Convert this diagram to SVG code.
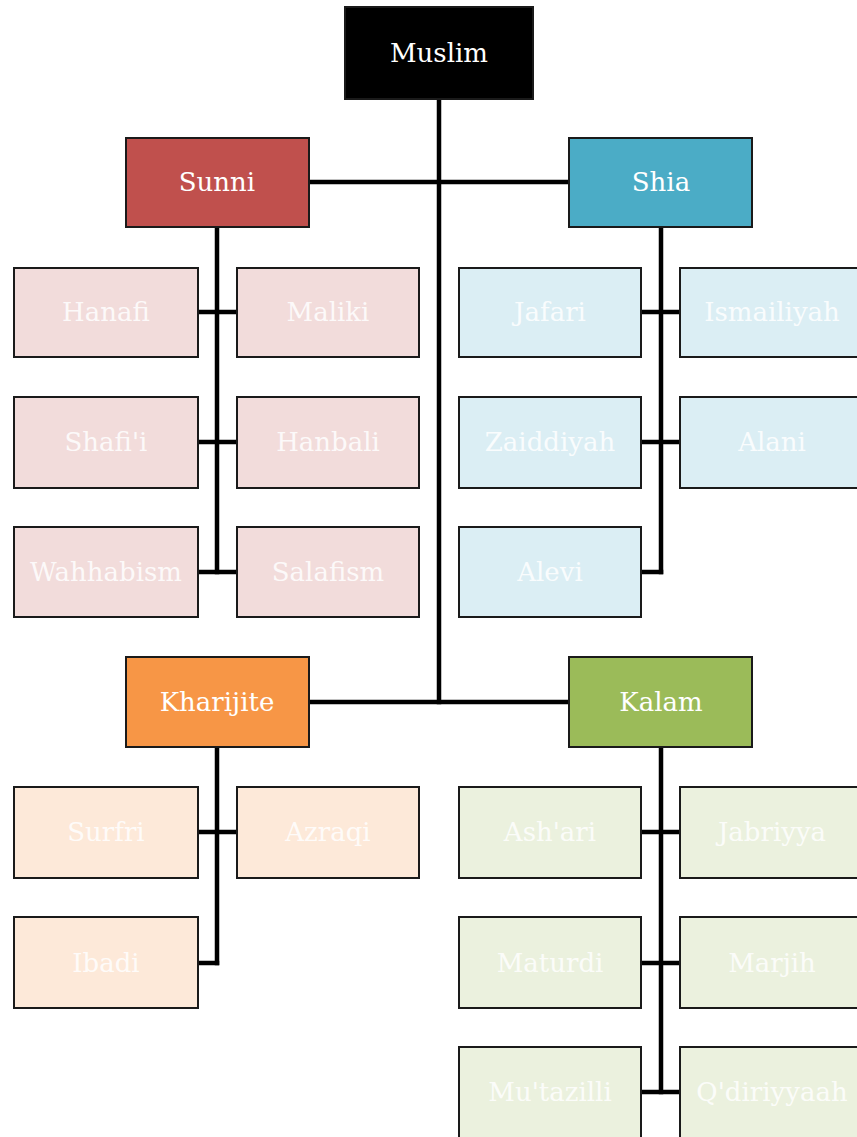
<svg xmlns="http://www.w3.org/2000/svg" width="857" height="1137" viewBox="0 0 857 1137">
<style>
.box{stroke:#1a1a1a;stroke-width:2}
.main{stroke:#1a1a1a;stroke-width:2}
text{font-family:"DejaVu Serif","Liberation Serif",serif;font-size:26px;fill:#ffffff;text-anchor:middle;dominant-baseline:central}
.conn line{stroke:#000;stroke-width:4.5;stroke-linecap:square}
.sun{fill:#f2dcdb}.shi{fill:#dbeef4}.kha{fill:#fde9d9}.kal{fill:#ebf1de}
.ct{fill:#ffffff;fill-opacity:0.85}
</style>
<rect width="857" height="1137" fill="#ffffff"/>
<g class="conn" id="connectors">
<line x1="439" y1="99" x2="439" y2="702"/>
<line x1="309" y1="182" x2="569" y2="182"/>
<line x1="309" y1="702" x2="569" y2="702"/>
<line x1="217" y1="227" x2="217" y2="572"/>
<line x1="198" y1="312" x2="237" y2="312"/>
<line x1="198" y1="442" x2="237" y2="442"/>
<line x1="198" y1="572" x2="237" y2="572"/>
<line x1="661" y1="227" x2="661" y2="572"/>
<line x1="641" y1="312" x2="680" y2="312"/>
<line x1="641" y1="442" x2="680" y2="442"/>
<line x1="641" y1="572" x2="661" y2="572"/>
<line x1="217" y1="747" x2="217" y2="963"/>
<line x1="198" y1="832" x2="237" y2="832"/>
<line x1="198" y1="963" x2="217" y2="963"/>
<line x1="661" y1="747" x2="661" y2="1092"/>
<line x1="641" y1="832" x2="680" y2="832"/>
<line x1="641" y1="963" x2="680" y2="963"/>
<line x1="641" y1="1092" x2="680" y2="1092"/>
</g>
<g id="muslim"><rect class="main" x="345" y="7" width="188" height="92" fill="#000000"/><text x="439" y="53">Muslim</text></g>
<g id="sunni"><rect class="main" x="126" y="138" width="183" height="89" fill="#c0504d"/><text x="217" y="182">Sunni</text></g>
<g id="shia"><rect class="main" x="569" y="138" width="183" height="89" fill="#4bacc6"/><text x="661" y="182">Shia</text></g>
<g id="kharijite"><rect class="main" x="126" y="657" width="183" height="90" fill="#f79646"/><text x="217" y="702">Kharijite</text></g>
<g id="kalam"><rect class="main" x="569" y="657" width="183" height="90" fill="#9bbb59"/><text x="661" y="702">Kalam</text></g>

<g id="hanafi"><rect class="box sun" x="14" y="268" width="184" height="89"/><text class="ct" x="106" y="312">Hanafi</text></g>
<g id="maliki"><rect class="box sun" x="237" y="268" width="182" height="89"/><text class="ct" x="328" y="312">Maliki</text></g>
<g id="shafii"><rect class="box sun" x="14" y="397" width="184" height="91"/><text class="ct" x="106" y="442">Shafi'i</text></g>
<g id="hanbali"><rect class="box sun" x="237" y="397" width="182" height="91"/><text class="ct" x="328" y="442">Hanbali</text></g>
<g id="wahhabism"><rect class="box sun" x="14" y="527" width="184" height="90"/><text class="ct" x="106" y="572">Wahhabism</text></g>
<g id="salafism"><rect class="box sun" x="237" y="527" width="182" height="90"/><text class="ct" x="328" y="572">Salafism</text></g>

<g id="jafari"><rect class="box shi" x="459" y="268" width="182" height="89"/><text class="ct" x="550" y="312">Jafari</text></g>
<g id="ismailiyah"><rect class="box shi" x="680" y="268" width="184" height="89"/><text class="ct" x="772" y="312">Ismailiyah</text></g>
<g id="zaiddiyah"><rect class="box shi" x="459" y="397" width="182" height="91"/><text class="ct" x="550" y="442">Zaiddiyah</text></g>
<g id="alani"><rect class="box shi" x="680" y="397" width="184" height="91"/><text class="ct" x="772" y="442">Alani</text></g>
<g id="alevi"><rect class="box shi" x="459" y="527" width="182" height="90"/><text class="ct" x="550" y="572">Alevi</text></g>

<g id="surfri"><rect class="box kha" x="14" y="787" width="184" height="91"/><text class="ct" x="106" y="832">Surfri</text></g>
<g id="azraqi"><rect class="box kha" x="237" y="787" width="182" height="91"/><text class="ct" x="328" y="832">Azraqi</text></g>
<g id="ibadi"><rect class="box kha" x="14" y="917" width="184" height="91"/><text class="ct" x="106" y="963">Ibadi</text></g>

<g id="ashari"><rect class="box kal" x="459" y="787" width="182" height="91"/><text class="ct" x="550" y="832">Ash'ari</text></g>
<g id="jabriyya"><rect class="box kal" x="680" y="787" width="184" height="91"/><text class="ct" x="772" y="832">Jabriyya</text></g>
<g id="maturdi"><rect class="box kal" x="459" y="917" width="182" height="91"/><text class="ct" x="550" y="963">Maturdi</text></g>
<g id="marjih"><rect class="box kal" x="680" y="917" width="184" height="91"/><text class="ct" x="772" y="963">Marjih</text></g>
<g id="mutazilli"><rect class="box kal" x="459" y="1047" width="182" height="95"/><text class="ct" x="550" y="1092">Mu'tazilli</text></g>
<g id="qdiriyyaah"><rect class="box kal" x="680" y="1047" width="184" height="95"/><text class="ct" x="772" y="1092">Q'diriyyaah</text></g>
</svg>
